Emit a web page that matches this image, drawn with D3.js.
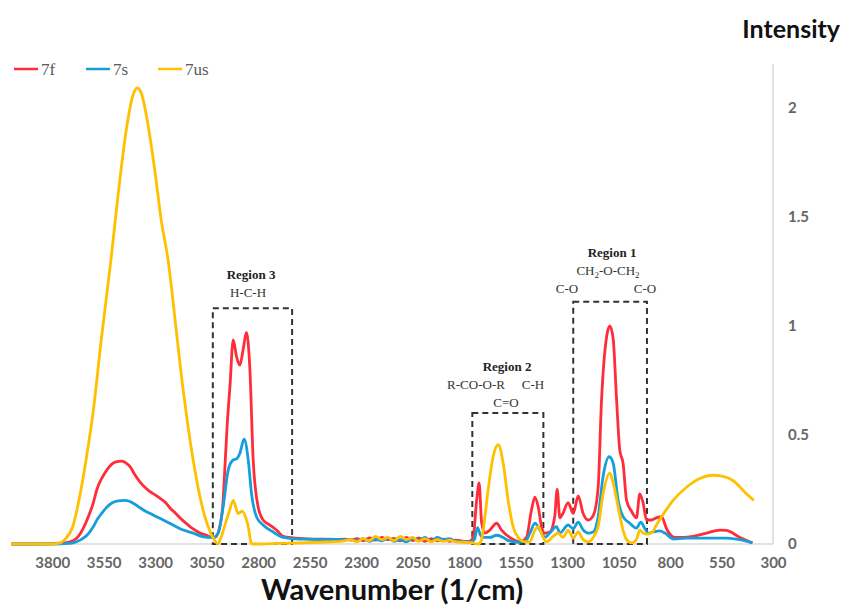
<!DOCTYPE html>
<html>
<head>
<meta charset="utf-8">
<script src="https://cdn.jsdelivr.net/npm/d3@7"></script>
<style>
  body { margin: 0; background: #fff; }
  svg { display: block; }
  .tick text { font-family: Lato, "Open Sans", sans-serif; font-size: 15px; font-weight: bold; fill: #666; }
  .region-title { font-family: "Liberation Serif", serif; font-weight: bold; font-size: 13px; fill: #222; }
  .region-sub { font-family: "Liberation Serif", serif; font-size: 13px; fill: #333; }
  .legend-text { font-family: "Liberation Serif", serif; font-size: 17px; fill: #595959; }
</style>
</head>
<body>
<div id="chart"></div>
<script>
// FTIR spectra, wavenumber (1/cm) vs intensity
var series7f = [
  [4000, 0], [3900, 0], [3800, 0.002], [3740, 0.005], [3700, 0.015], [3680, 0.027], [3650, 0.07],
  [3631, 0.11], [3600, 0.19], [3583, 0.25], [3560, 0.30], [3534, 0.34], [3495, 0.375], [3461, 0.38],
  [3440, 0.37], [3422, 0.355], [3400, 0.32], [3374, 0.285], [3350, 0.26], [3325, 0.24], [3300, 0.225],
  [3277, 0.21], [3250, 0.19], [3228, 0.165], [3200, 0.14], [3180, 0.12], [3150, 0.095], [3131, 0.08],
  [3100, 0.06], [3083, 0.05], [3050, 0.04], [3034, 0.033], [3010, 0.03], [2986, 0.08], [2970, 0.2],
  [2962, 0.34], [2950, 0.55], [2937, 0.72], [2921, 0.935], [2905, 0.86], [2889, 0.82], [2873, 0.89],
  [2857, 0.97], [2840, 0.80], [2824, 0.385], [2800, 0.17], [2776, 0.11], [2743, 0.087], [2711, 0.064],
  [2679, 0.035], [2630, 0.028], [2580, 0.025], [2530, 0.022], [2480, 0.022], [2430, 0.02], [2380, 0.022],
  [2350, 0.018], [2320, 0.025], [2290, 0.015], [2260, 0.028], [2230, 0.018], [2200, 0.03], [2170, 0.02],
  [2140, 0.026], [2110, 0.014], [2080, 0.03], [2050, 0.016], [2020, 0.028], [1990, 0.012], [1960, 0.025],
  [1930, 0.015], [1900, 0.022], [1870, 0.012], [1840, 0.018], [1800, 0.012], [1775, 0.012], [1756, 0.03],
  [1739, 0.20], [1727, 0.28], [1715, 0.10], [1699, 0.05], [1675, 0.064], [1642, 0.095], [1618, 0.064],
  [1578, 0.03], [1530, 0.01], [1497, 0.03], [1473, 0.155], [1456, 0.215], [1440, 0.17], [1424, 0.08],
  [1408, 0.05], [1384, 0.055], [1360, 0.125], [1348, 0.25], [1335, 0.12], [1320, 0.14], [1295, 0.19],
  [1270, 0.14], [1246, 0.22], [1222, 0.14], [1197, 0.11], [1173, 0.13], [1149, 0.26], [1133, 0.65],
  [1108, 0.95], [1092, 1.0], [1076, 0.94], [1060, 0.67], [1044, 0.43], [1028, 0.37], [1011, 0.20],
  [987, 0.15], [963, 0.12], [947, 0.23], [931, 0.19], [914, 0.11], [890, 0.11], [866, 0.12],
  [841, 0.125], [817, 0.07], [777, 0.03], [736, 0.03], [688, 0.035], [623, 0.05], [558, 0.064],
  [526, 0.062], [461, 0.03], [400, 0.005]
];

var series7s = [
  [4000, 0], [3800, 0], [3720, 0.003], [3699, 0.005], [3660, 0.02], [3631, 0.04], [3600, 0.08],
  [3583, 0.11], [3560, 0.14], [3534, 0.17], [3510, 0.188], [3486, 0.197], [3446, 0.2], [3408, 0.188],
  [3380, 0.17], [3359, 0.157], [3310, 0.133], [3261, 0.11], [3213, 0.087], [3164, 0.064], [3115, 0.05],
  [3067, 0.033], [3019, 0.03], [2994, 0.05], [2970, 0.17], [2945, 0.34], [2921, 0.385], [2905, 0.39],
  [2889, 0.415], [2868, 0.48], [2848, 0.385], [2832, 0.23], [2808, 0.125], [2776, 0.087], [2727, 0.055],
  [2679, 0.03], [2598, 0.022], [2550, 0.022], [2500, 0.02], [2450, 0.022], [2400, 0.02], [2350, 0.02],
  [2320, 0.015], [2290, 0.025], [2260, 0.012], [2230, 0.022], [2200, 0.015], [2170, 0.028], [2140, 0.012],
  [2110, 0.02], [2080, 0.01], [2050, 0.025], [2020, 0.015], [1990, 0.03], [1960, 0.012], [1930, 0.03],
  [1900, 0.02], [1870, 0.025], [1840, 0.012], [1800, 0.01], [1770, 0.01], [1750, 0.02], [1735, 0.075],
  [1720, 0.04], [1707, 0.03], [1675, 0.03], [1642, 0.04], [1610, 0.03], [1594, 0.02], [1540, 0.008],
  [1500, 0.015], [1480, 0.05], [1456, 0.095], [1432, 0.064], [1408, 0.03], [1384, 0.05], [1351, 0.08],
  [1335, 0.05], [1295, 0.087], [1270, 0.07], [1246, 0.10], [1222, 0.065], [1197, 0.05], [1173, 0.055],
  [1149, 0.125], [1125, 0.31], [1095, 0.40], [1076, 0.37], [1052, 0.20], [1028, 0.125], [995, 0.095],
  [963, 0.073], [942, 0.10], [922, 0.07], [906, 0.05], [882, 0.055], [850, 0.06], [825, 0.05],
  [785, 0.023], [720, 0.027], [623, 0.027], [526, 0.027], [461, 0.02], [400, 0.005]
];

var series7us = [
  [4000, 0], [3800, 0], [3760, 0.005], [3740, 0.02], [3700, 0.08], [3660, 0.25], [3620, 0.48],
  [3606, 0.57], [3560, 0.95], [3515, 1.30], [3480, 1.60], [3440, 1.90], [3410, 2.05], [3387, 2.09],
  [3365, 2.06], [3340, 1.95], [3300, 1.70], [3270, 1.48], [3237, 1.30], [3200, 1.00], [3170, 0.75],
  [3145, 0.57], [3100, 0.30], [3060, 0.13], [3030, 0.05], [3010, 0.015], [2995, 0.0], [2980, 0.03],
  [2960, 0.09], [2940, 0.15], [2921, 0.2], [2897, 0.14], [2877, 0.15], [2853, 0.1], [2830, 0.0],
  [2780, 0.0], [2700, 0.003], [2600, 0.005], [2500, 0.008], [2450, 0.01], [2400, 0.012], [2350, 0.02],
  [2320, 0.01], [2290, 0.025], [2260, 0.015], [2230, 0.035], [2200, 0.02], [2170, 0.03], [2140, 0.015],
  [2110, 0.035], [2080, 0.02], [2050, 0.03], [2020, 0.012], [1990, 0.025], [1960, 0.01], [1930, 0.02],
  [1900, 0.012], [1870, 0.018], [1840, 0.01], [1800, 0.008], [1760, 0.005], [1731, 0.0], [1715, 0.02],
  [1707, 0.064], [1683, 0.25], [1659, 0.40], [1634, 0.455], [1610, 0.37], [1586, 0.20], [1562, 0.08],
  [1537, 0.03], [1505, 0.01], [1481, 0.01], [1456, 0.064], [1440, 0.08], [1416, 0.03], [1400, 0.01],
  [1367, 0.035], [1343, 0.05], [1320, 0.03], [1295, 0.064], [1270, 0.027], [1246, 0.055], [1222, 0.02],
  [1197, 0.01], [1173, 0.03], [1149, 0.08], [1125, 0.23], [1092, 0.325], [1076, 0.28], [1052, 0.17],
  [1028, 0.064], [1011, 0.02], [987, 0.005], [963, 0.02], [947, 0.064], [931, 0.05], [914, 0.045],
  [890, 0.05], [866, 0.087], [841, 0.125], [785, 0.20], [720, 0.26], [655, 0.30], [590, 0.315],
  [542, 0.31], [493, 0.29], [429, 0.23], [393, 0.20]
];

var seriesNames = ["7f", "7s", "7us"];
var seriesColors = ["#FF2D3A", "#159FDA", "#FFC000"];
var xTickValues = [3800, 3550, 3300, 3050, 2800, 2550, 2300, 2050, 1800, 1550, 1300, 1050, 800, 550, 300];
var yTickValues = [0, 0.5, 1, 1.5, 2];

// dashed boxes: wavenumber range and top intensity
var regionBoxes = [
  {x0: 3020, x1: 2635, top: 1.08},
  {x0: 1760, x1: 1415, top: 0.60},
  {x0: 1270, x1: 912, top: 1.11}
];

var svgWidth = 843;
var svgHeight = 606;

var svg = d3.select("#chart")
  .append("svg")
  .attr("width", svgWidth)
  .attr("height", svgHeight);

var xScale = d3.scaleLinear().domain([4000, 300]).range([11, 773]);
var yScale = d3.scaleLinear().domain([0, 2.2]).range([544, 64]);

// plot frame (light grey bottom + right)
svg.append("line")
  .attr("x1", xScale(4000)).attr("x2", xScale(300))
  .attr("y1", yScale(0)).attr("y2", yScale(0))
  .attr("stroke", "#d9d9d9").attr("stroke-width", 1.5);
svg.append("line")
  .attr("x1", xScale(300)).attr("x2", xScale(300))
  .attr("y1", yScale(0)).attr("y2", yScale(2.2))
  .attr("stroke", "#d9d9d9").attr("stroke-width", 1.5);

// axes
var bottomAxis = d3.axisBottom(xScale).tickValues(xTickValues).tickSize(0).tickPadding(13)
  .tickFormat(d3.format("d"));
var rightAxis = d3.axisRight(yScale).tickValues(yTickValues).tickSize(0).tickPadding(15)
  .tickFormat(d3.format(""));

svg.append("g")
  .attr("transform", `translate(0, ${yScale(0)})`)
  .call(bottomAxis)
  .call(g => g.select(".domain").remove());

svg.append("g")
  .attr("transform", `translate(${xScale(300)}, 0)`)
  .call(rightAxis)
  .call(g => g.select(".domain").remove());

// region boxes
svg.selectAll("rect.region")
  .data(regionBoxes)
  .enter()
  .append("rect")
  .attr("class", "region")
  .attr("x", d => xScale(d.x0))
  .attr("y", d => yScale(d.top))
  .attr("width", d => xScale(d.x1) - xScale(d.x0))
  .attr("height", d => yScale(0) - yScale(d.top))
  .attr("fill", "none")
  .attr("stroke", "#333")
  .attr("stroke-width", 2)
  .attr("stroke-dasharray", "6,4");

// spectra
var line = d3.line()
  .x(d => xScale(d[0]))
  .y(d => yScale(d[1]))
  .curve(d3.curveMonotoneX);

[series7f, series7s, series7us].forEach(function(s, i) {
  svg.append("path")
    .datum(s)
    .attr("fill", "none")
    .attr("stroke", seriesColors[i])
    .attr("stroke-width", 2.8)
    .attr("stroke-linejoin", "round")
    .attr("d", line);
});

// annotations
function label(cls, x, y, txt) {
  return svg.append("text").attr("class", cls)
    .attr("x", x).attr("y", y)
    .attr("text-anchor", "middle")
    .text(txt);
}
label("region-title", 251, 279, "Region 3");
label("region-sub", 248, 297, "H-C-H");

label("region-title", 507, 371, "Region 2");
label("region-sub", 476, 389, "R-CO-O-R");
label("region-sub", 533, 389, "C-H");
label("region-sub", 506, 407, "C=O");

label("region-title", 612, 257, "Region 1");
var ch = svg.append("text").attr("class", "region-sub")
  .attr("x", 608).attr("y", 275).attr("text-anchor", "middle");
ch.append("tspan").text("CH");
ch.append("tspan").attr("font-size", "9px").attr("dy", 3).text("2");
ch.append("tspan").attr("dy", -3).text("-O-CH");
ch.append("tspan").attr("font-size", "9px").attr("dy", 3).text("2");
label("region-sub", 567, 293, "C-O");
label("region-sub", 645, 293, "C-O");

// legend
var legend = svg.append("g").attr("transform", "translate(14, 69)");
seriesNames.forEach(function(name, i) {
  var g = legend.append("g").attr("transform", `translate(${i * 72}, 0)`);
  g.append("line").attr("x1", 0).attr("x2", 24).attr("y1", 0).attr("y2", 0)
    .attr("stroke", seriesColors[i]).attr("stroke-width", 2.5);
  g.append("text").attr("class", "legend-text").attr("x", 27).attr("y", 6).text(name);
});

// axis titles
svg.append("text")
  .attr("x", 840).attr("y", 38)
  .attr("text-anchor", "end")
  .attr("font-family", "Lato, sans-serif")
  .attr("font-weight", "bold")
  .attr("font-size", "25px")
  .attr("fill", "#111")
  .text("Intensity");

svg.append("text")
  .attr("x", 392).attr("y", 600)
  .attr("text-anchor", "middle")
  .attr("font-family", "Lato, sans-serif")
  .attr("font-weight", "bold")
  .attr("font-size", "29px")
  .attr("fill", "#111")
  .text("Wavenumber (1/cm)");
</script>
</body>
</html>
